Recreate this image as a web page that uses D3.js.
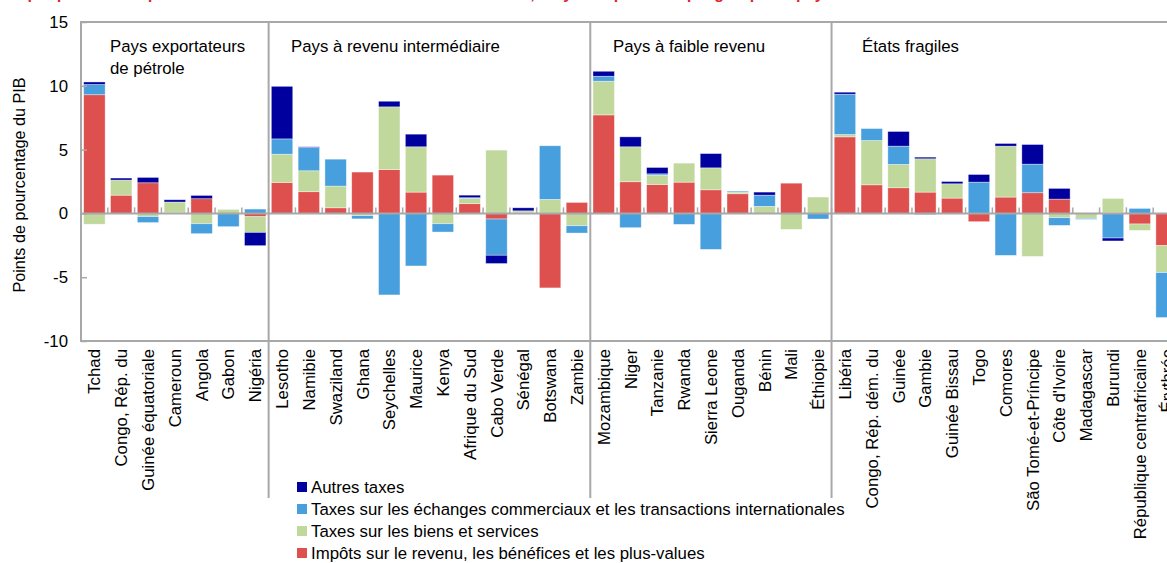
<!DOCTYPE html>
<html><head><meta charset="utf-8">
<script src="https://cdn.jsdelivr.net/npm/d3@7"></script>
<style>body{margin:0;background:#fff}svg{display:block;font-family:"Liberation Sans",Arial,sans-serif}</style>
</head><body><svg id="c" width="1167" height="563"></svg>
<script>
const countries = ["Tchad","Congo, Rép. du","Guinée équatoriale","Cameroun","Angola","Gabon","Nigéria",
 "Lesotho","Namibie","Swaziland","Ghana","Seychelles","Maurice","Kenya","Afrique du Sud","Cabo Verde","Sénégal","Botswana","Zambie",
 "Mozambique","Niger","Tanzanie","Rwanda","Sierra Leone","Ouganda","Bénin","Mali","Éthiopie",
 "Libéria","Congo, Rép. dém. du","Guinée","Gambie","Guinée Bissau","Togo","Comores","São Tomé-et-Príncipe","Côte d'Ivoire","Madagascar","Burundi","République centrafricaine","Érythrée"];
const groups = [
 {label:["Pays exportateurs","de pétrole"], start:0},
 {label:["Pays à revenu intermédiaire"], start:7},
 {label:["Pays à faible revenu"], start:19},
 {label:["États fragiles"], start:28}
];
const seriesNames = ["Impôts sur le revenu, les bénéfices et les plus-values","Taxes sur les biens et services","Taxes sur les échanges commerciaux et les transactions internationales","Autres taxes"];
const impots  = [9.3,1.43,2.4,0.08,1.15,0,-0.26, 2.43,1.7,0.44,3.24,3.44,1.67,3.0,0.76,-0.44,0.05,-5.84,0.86, 7.72,2.48,2.27,2.45,1.85,1.54,0,2.37,0, 6.0,2.24,2.01,1.67,1.2,-0.65,1.28,1.62,1.12,0,0.08,-0.83,-2.53];
const biens   = [-0.85,1.18,-0.25,0.81,-0.81,0.31,-1.23, 2.21,1.64,1.7,-0.18,4.91,3.55,-0.81,0.42,4.96,0.15,1.1,-0.97, 2.64,2.74,0.73,1.49,1.72,0.13,0.55,-1.25,1.28, 0.18,3.47,1.83,2.61,1.12,0,3.99,-3.37,-0.34,-0.39,1.09,-0.5,-2.11];
const echanges= [0.8,0,-0.47,0,-0.78,-1.04,0.34, 1.2,1.83,2.11,-0.25,-6.39,-4.12,-0.65,0.05,-2.84,0,4.2,-0.57, 0.39,-1.12,0.1,-0.86,-2.82,0.08,0.88,0,-0.44, 3.16,0.94,1.43,-0.1,-0.05,2.45,-3.29,2.24,-0.6,-0.08,-1.93,0.39,-3.52];
const autres  = [0.2,0.16,0.42,0.18,0.26,0,-1.04, 4.12,0.05,0,0,0.44,0.99,0,0.2,-0.65,0.24,0,0, 0.39,0.78,0.5,0,1.12,0,0.24,0,0, 0.16,0,1.15,0.13,0.18,0.6,0.21,1.54,0.84,0,-0.23,0,0];
const yTicks = [-10,-5,0,5,10,15];
const colors = ["#DE504E","#C0D89B","#479FDD","#00009E"];
const legendOrder = [3,2,1,0];

const FS = 16.8;
const svg = d3.select("#c");
const x = d3.scaleBand().domain(countries).range([81,1180]).paddingInner(0.2).paddingOuter(0.1);
const y = d3.scaleLinear().domain([-10,15]).range([341,22]);
const step = x.step();
const gridCol = "#A8A8A8";

// title (clipped at top, as in the reference)
svg.append("text").attr("x",0).attr("y",-1).attr("fill","#E3242B").attr("font-weight","bold").attr("font-size",16)
 .text("Graphique 2.8. Afrique subsaharienne : variation des recettes fiscales, moyenne pour chaque groupe de pays");

const table = countries.map((c,i)=>({c, s0:impots[i], s1:biens[i], s2:echanges[i], s3:autres[i]}));
const stack = d3.stack().keys(["s0","s1","s2","s3"]).offset(d3.stackOffsetDiverging);
const layers = stack(table);

svg.append("g").selectAll("g").data(layers).join("g").attr("fill",(d,i)=>colors[i])
 .selectAll("rect").data(d=>d).join("rect")
 .attr("x",d=>x(d.data.c)).attr("width",x.bandwidth())
 .attr("y",d=>y(Math.max(d[0],d[1]))).attr("height",d=>Math.abs(y(d[0])-y(d[1])))
 .attr("stroke","rgba(255,255,255,0.55)").attr("stroke-width",0.7);

// frame
const fr = svg.append("g").attr("stroke",gridCol).attr("stroke-width",2).attr("fill","none");
fr.append("line").attr("x1",81).attr("x2",1167).attr("y1",y(15)).attr("y2",y(15));
fr.append("line").attr("x1",81).attr("x2",1167).attr("y1",y(-10)).attr("y2",y(-10));
fr.append("line").attr("x1",81).attr("x2",81).attr("y1",y(15)-1).attr("y2",y(-10)+1);
fr.append("line").attr("x1",81).attr("x2",1167).attr("y1",y(0)).attr("y2",y(0));
countries.forEach((c,i)=>{ if(i>0){ const bx = x(c)-step*0.1;
 fr.append("line").attr("x1",bx).attr("x2",bx).attr("y1",y(0)-6).attr("y2",y(0)).attr("stroke-width",1.5);}});
groups.slice(1).forEach(g=>{ const bx = x(countries[g.start])-step*0.1;
 fr.append("line").attr("x1",bx).attr("x2",bx).attr("y1",y(15)).attr("y2",498);});

// y axis
const ya = svg.append("g").attr("transform","translate(81,0)")
 .call(d3.axisRight(y).tickValues(yTicks).tickSize(6).tickFormat(""));
ya.select(".domain").remove();
ya.selectAll("line").attr("stroke",gridCol).attr("stroke-width",1.5);
svg.append("g").selectAll("text").data(yTicks).join("text")
 .attr("x",68).attr("y",d=>y(d)).attr("dy","0.36em").attr("text-anchor","end").attr("font-size",FS).attr("fill","#000").text(d=>d);

svg.append("text").attr("transform","translate(25,185) rotate(-90)").attr("text-anchor","middle")
 .attr("font-size",16.2).text("Points de pourcentage du PIB");

// x labels
svg.append("g").selectAll("text").data(countries).join("text")
 .attr("transform",d=>`translate(${x(d)+x.bandwidth()/2},349) rotate(-90)`)
 .attr("dy","0.36em").attr("text-anchor","end").attr("font-size",FS).text(d=>d);

// group labels
const gx = [110,291,613,862];
groups.forEach((g,i)=>{ g.label.forEach((l,j)=>{
 svg.append("text").attr("x",gx[i]).attr("y",52+j*22).attr("font-size",FS).text(l);});});

// legend
const lg = svg.append("g");
legendOrder.forEach((k,j)=>{
 lg.append("rect").attr("x",297).attr("y",482+j*22).attr("width",10).attr("height",10).attr("fill",colors[k]);
 lg.append("text").attr("x",311).attr("y",493+j*22).attr("font-size",FS).text(seriesNames[k]);
});
</script></body></html>
